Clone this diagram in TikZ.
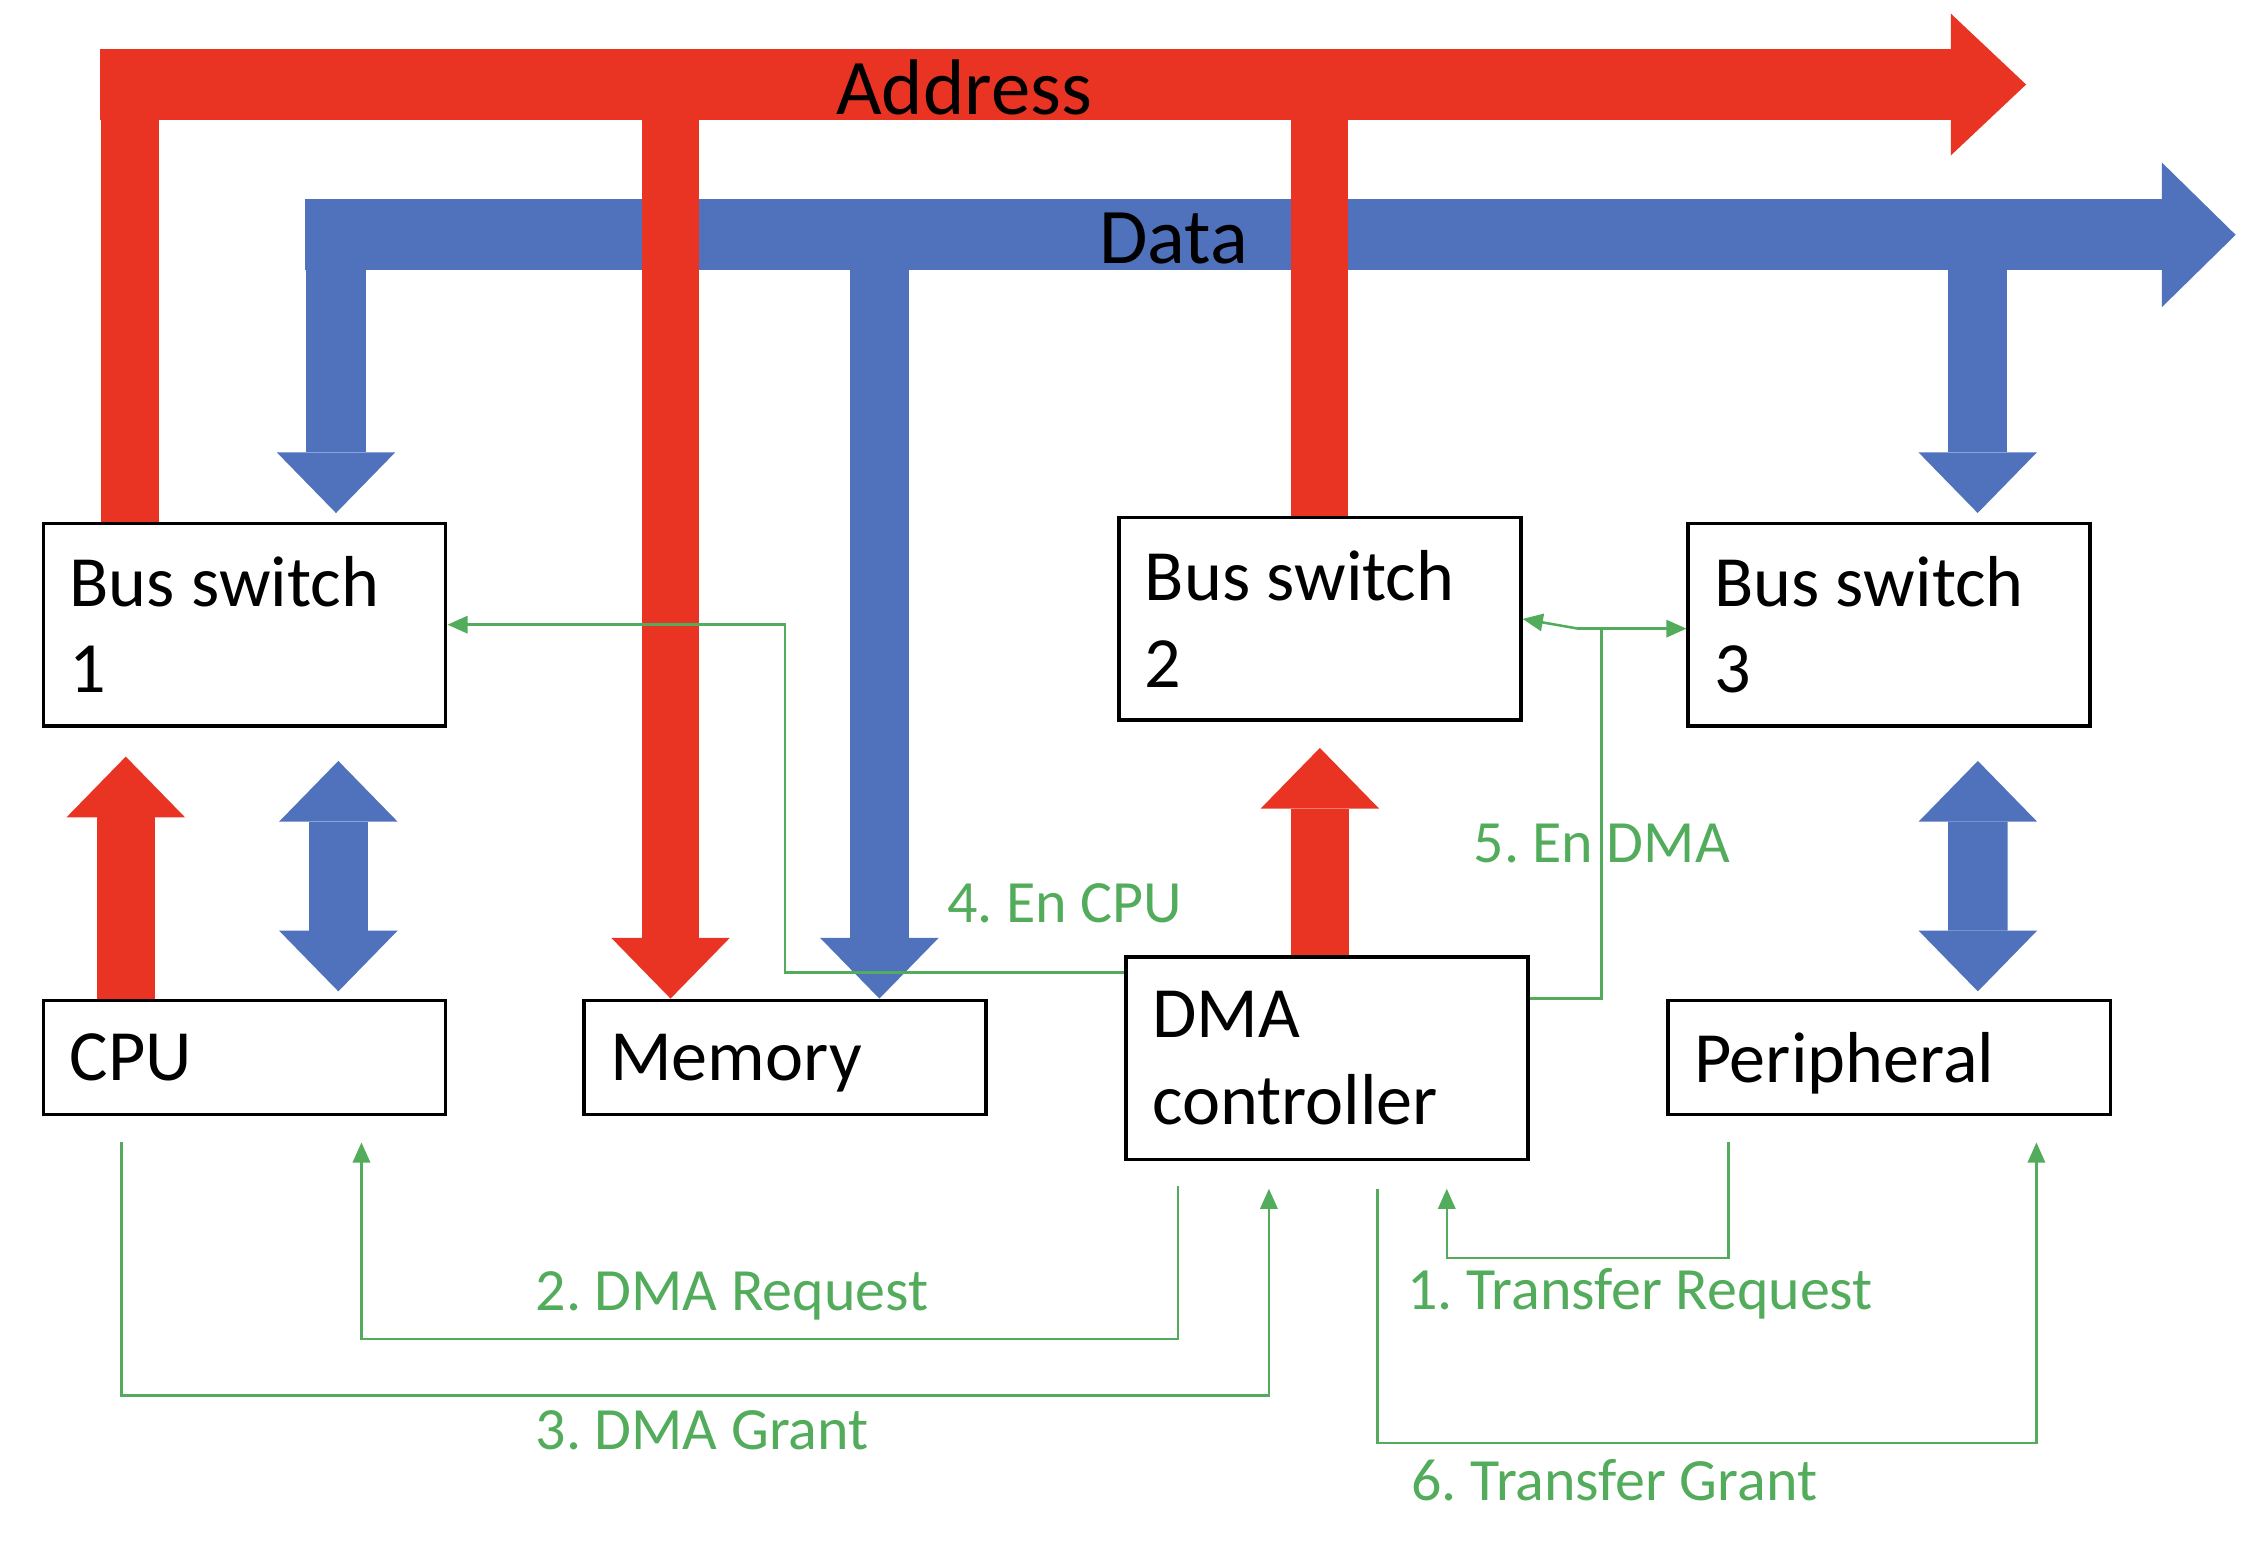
\documentclass[tikz,border=0pt]{standalone}
\usepackage{fontspec}
\setmainfont{Carlito}
\usepackage{tikz}
\usetikzlibrary{arrows.meta,calc}

\definecolor{busred}{RGB}{233,52,36}
\definecolor{busblue}{RGB}{80,114,189}
\definecolor{siggreen}{RGB}{82,172,92}

\frenchspacing

\begin{document}
\begin{tikzpicture}
	[
	 x = 0.01cm,
	 y = -0.01cm,
	 box/.style = {shape=rectangle,
	               draw,
	               line width = 0.7pt,
	               anchor = north west,
	               align = flush left,
	               font = \fontsize{14.2}{17}\selectfont,
	               minimum height = #1,
	               text width = 2.42cm,
	               inner xsep = 0.18cm,
	               inner ysep = 0.05cm
	              },
	 box/.default = 1.40cm,
	 flat/.style = {box = 0.79cm, text depth = 0pt},
	 abus/.style = {draw = busred, line width = 0.40cm},
	 dbus/.style = {draw = busblue, line width = 0.41cm},
	 fat/.style  = {-{Triangle[length=0.42cm, width=0.82cm, line width=0pt]}},
	 fat2/.style = {{Triangle[length=0.42cm, width=0.82cm, line width=0pt]}-{Triangle[length=0.42cm, width=0.82cm, line width=0pt]}},
	 sig/.style  = {draw = siggreen, line width = 0.5pt},
	 sigtip/.style = {-{Triangle[length=0.14cm, width=0.12cm]}},
	 buslbl/.style = {font = \fontsize{15.5}{18}\selectfont},
	 siglbl/.style = {text = siggreen, font = \fontsize{11.8}{14}\selectfont}
	]
	
	\newcommand{\BusSw}[1]{Bus switch\\#1}
	
	\useasboundingbox (0,0) rectangle (1568,1082);
	
	\node[box] (BS1) at (29,361)   {\BusSw{1}};
	\node[box] (BS2) at (773,357)  {\BusSw{2}};
	\node[box] (BS3) at (1167,361) {\BusSw{3}};
	\node[flat] (CPU) at (29,691)  {CPU};
	\node[flat] (Mem) at (403,691) {Memory};
	\node[box] (DMA) at (778,661) {DMA\\controller};
	\node[flat, text width=2.70cm] (Per) at (1153,691) {Peripheral};
	
	\coordinate (addr)    at (69,58.5);
	\coordinate (addrEnd) at (1402,58.5);
	\coordinate (data)    at (211,162.5);
	\coordinate (dataEnd) at (1547,162.5);
	\coordinate (a1) at (90,58.5);
	\coordinate (a2) at (464,58.5);
	\coordinate (a3) at (913,58.5);
	\coordinate (d1) at (232.5,162.5);
	\coordinate (d2) at (608.5,162.5);
	\coordinate (d3) at (1368.5,162.5);
	\coordinate (en) at (1108,435);
	
	\draw[abus, line width=0.49cm, -{Triangle[length=0.52cm, width=0.98cm, line width=0pt]}] (addr) -- (addrEnd);
	\draw[dbus, line width=0.49cm, -{Triangle[length=0.51cm, width=1.00cm, line width=0pt]}] (data) -- (dataEnd);
	
	\draw[abus] (a1) -- (a1 |- BS1.north);
	\draw[abus, fat] (a2) -- (a2 |- Mem.north);
	\draw[abus] (a3) -- (a3 |- BS2.north);
	\draw[dbus, fat, shorten >=0.06cm] (d1) -- (d1 |- BS1.north);
	\draw[dbus, fat] (d2) -- (d2 |- Mem.north);
	\draw[dbus, fat, shorten >=0.06cm] (d3) -- (d3 |- BS3.north);
	
	\draw[abus, fat, shorten >=0.20cm] ([xshift=0.58cm]CPU.north west) -- ([xshift=0.58cm]BS1.south west);
	\draw[dbus, fat2, shorten <=0.05cm, shorten >=0.23cm] ([xshift=2.05cm]CPU.north west) -- ([xshift=2.05cm]BS1.south west);
	\draw[abus, fat, shorten >=0.18cm] (DMA.north -| BS2.south) -- (BS2.south);
	\draw[dbus, fat2, shorten <=0.05cm, shorten >=0.23cm] ([xshift=2.155cm]Per.north west) -- ([xshift=2.015cm]BS3.south west);
	
	\draw[sig, sigtip, shorten <=0.18cm, shorten >=0.19cm]
	     ([xshift=0.43cm]Per.south west) -- ++(0,98) -| ([xshift=2.23cm]DMA.south west);
	\draw[sig, sigtip, shorten <=0.17cm, shorten >=0.18cm]
	     ([xshift=0.37cm]DMA.south west) -- ++(0,123) -| ([xshift=2.21cm]CPU.south west);
	\draw[sig, sigtip, shorten <=0.18cm, shorten >=0.19cm]
	     ([xshift=0.55cm]CPU.south west) -- ++(0,193) -| ([xshift=1.00cm]DMA.south west);
	\draw[sig, sigtip] ([yshift=-0.12cm]DMA.north west) -| (Mem.center |- BS1.east) -- (BS1.east);
	\draw[sig] ([yshift=-0.30cm]DMA.north east) -| (en);
	\draw[sig, sigtip] ([xshift=-0.16cm]en) -- (en -| BS3.west);
	\draw[sig, sigtip] ([xshift=-0.16cm]en) -- (BS2.east);
	\draw[sig, sigtip, shorten <=0.19cm, shorten >=0.18cm]
	     ([xshift=1.75cm]DMA.south west) -- ++(0,195) -| ([xshift=2.56cm]Per.south west);
	
	\begin{scope}[every node/.style = {anchor = base west, inner sep = 0pt}]
	  \node[buslbl] (LA) at (578,79)  {Address};
	  \node[buslbl] (LD) at (760,182) {Data};
	  \node[siglbl] (L1) at (973,906)  {1. Transfer Request};
	  \node[siglbl] (L2) at (370,907)  {2. DMA Request};
	  \node[siglbl] (L3) at (370,1003) {3. DMA Grant};
	  \node[siglbl] (L4) at (655,638)  {4. En CPU};
	  \node[siglbl] (L5) at (1019,597) {5. En DMA};
	  \node[siglbl] (L6) at (976,1038) {6. Transfer Grant};
	\end{scope}
\end{tikzpicture}
\end{document}
